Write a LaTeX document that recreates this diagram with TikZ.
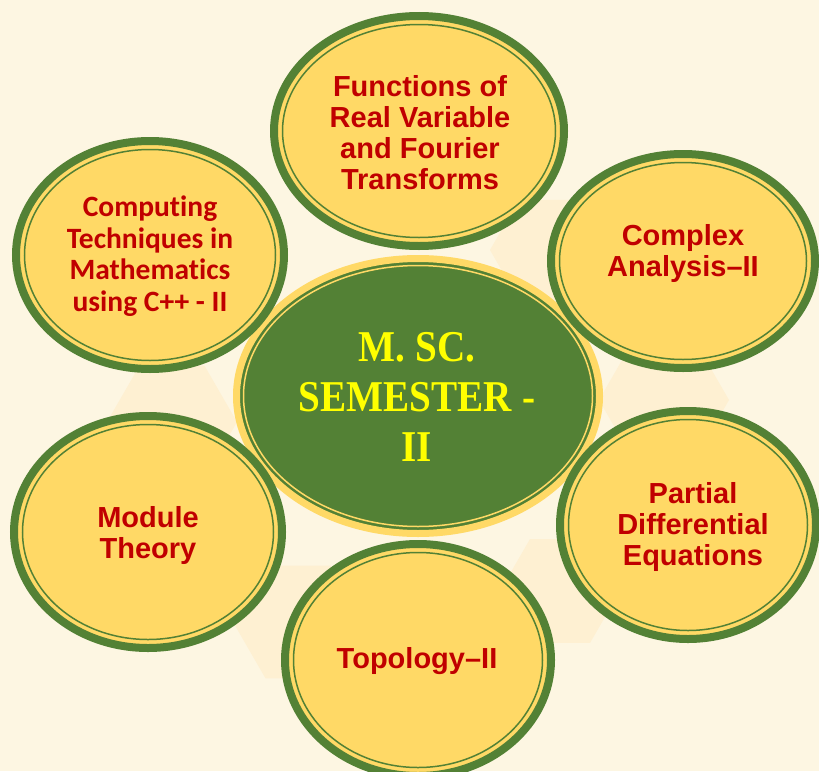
\documentclass[tikz,border=0pt]{standalone}
\usepackage{fontspec}
\setmainfont{Liberation Sans}
\newfontfamily\calibrifont[Ligatures=NoCommon]{Carlito}
\newfontfamily\titlefont{Liberation Serif}
\usetikzlibrary{shapes.geometric}

\definecolor{paper}{HTML}{FDF6E2}
\definecolor{hexpale}{HTML}{FEF0D2}
\definecolor{leaf}{HTML}{538135}
\definecolor{gold}{HTML}{FFD966}
\definecolor{crimson}{HTML}{C00000}
\definecolor{lemon}{HTML}{FFFF00}

% outer topic oval: name, centre x, centre y, x radius, y radius (outer edge)
\newcommand\topicoval[5]{%
  \node[topic, minimum width={2*#4-8}, minimum height={2*#5-8}] (#1) at (#2,#3) {};
  \draw[leaf, line width=1.5pt] (#1.center) ellipse [x radius={#4-12.5}, y radius={#5-12.5}];
}
% pale hexagon in the backdrop: centre x, centre y, side
\newcommand\backhex[3]{%
  \fill[hexpale] (#1,#2) +(0:#3) -- +(60:#3) -- +(120:#3) -- +(180:#3) -- +(240:#3) -- +(300:#3) -- cycle;
}

\begin{document}
\begin{tikzpicture}[x=1pt, y=-1pt,
  topic/.style={ellipse, draw=leaf, line width=8pt, fill=gold, inner sep=0pt},
  topictext/.style={text=crimson, align=center, inner sep=0pt,
    font=\bfseries\fontsize{29}{31}\selectfont},
  hubtext/.style={text=lemon, align=center, inner sep=0pt,
    font=\titlefont\bfseries\fontsize{44}{50}\selectfont}]

% backdrop
\fill[paper] (0,0) rectangle (819,771);
\useasboundingbox (0,0) rectangle (819,771);

% faint hexagon ring behind the ovals
\backhex{172}{422}{65}
\backhex{298}{622}{65}
\backhex{560}{591}{60}
\backhex{664}{400}{65}
\backhex{548}{250}{58}

% central hub
\node[ellipse, fill=leaf, draw=gold, line width=7pt, inner sep=0pt,
      minimum width=363, minimum height=275] (hub) at (418,396) {};
\draw[gold, line width=1.5pt] (hub.center) ellipse [x radius=174.5, y radius=130.5];
\node[hubtext] (hubT) at (417,397)
  {\scalebox{0.89}[1]{M. SC.}\\ \scalebox{0.89}[1]{SEMESTER -}\\ \scalebox{0.89}[1]{II}};

% surrounding topics
\topicoval{fun}{419}{131}{149}{119}
\node[topictext] (funT) at (420,133) {Functions of\\Real Variable\\and Fourier\\Transforms};

\topicoval{comp}{150}{255}{138}{118}
\node[topictext, font=\calibrifont\bfseries\fontsize{29.5}{31.5}\selectfont] (compT) at (150,256)
  {Computing\\Techniques in\\Mathematics\\using C++ - II};

\topicoval{cplx}{683}{261}{136}{111}
\node[topictext] (cplxT) at (683,253) {Complex\\Analysis--II};

\topicoval{mod}{148}{532}{138}{120}
\node[topictext] (modT) at (148,535) {Module\\Theory};

\topicoval{pde}{688}{525}{132}{118}
\node[topictext] (pdeT) at (693,527) {Partial\\Differential\\Equations};

\topicoval{topo}{418}{660}{137}{120}
\node[topictext] (topoT) at (417,661) {Topology--II};

\end{tikzpicture}
\end{document}
